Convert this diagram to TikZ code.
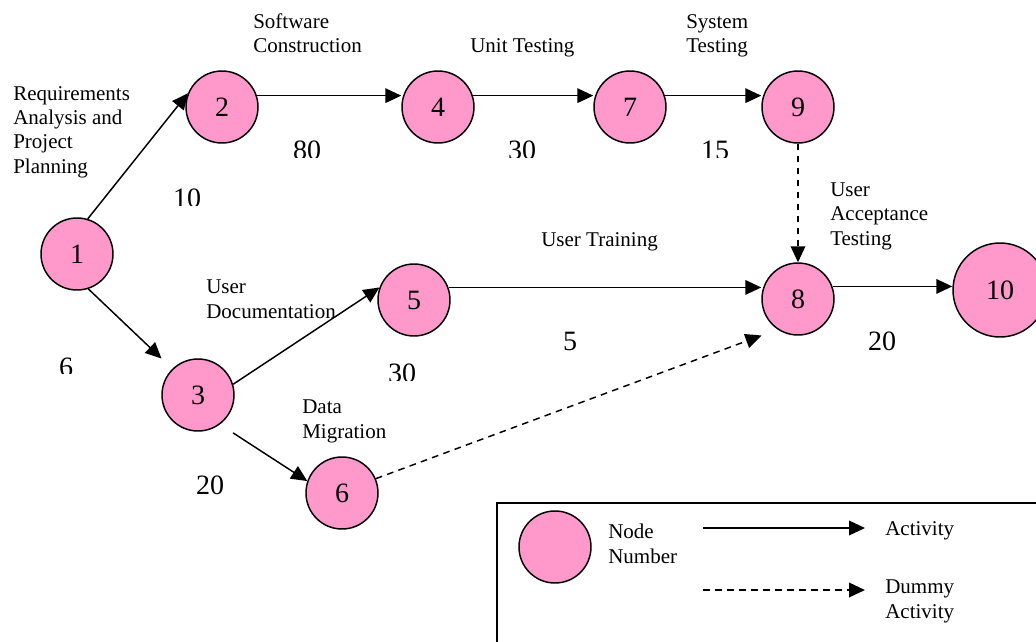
\documentclass[tikz,border=0pt]{standalone}
\usepackage{fontspec}
\setmainfont{Liberation Serif}
\usetikzlibrary{arrows.meta,calc}
\definecolor{nodepink}{RGB}{255,153,204}
\tikzset{
  evt/.style={circle,draw=black,fill=nodepink,line width=1.1pt,inner sep=0pt,minimum size=54pt,font=\fontsize{21}{24}\selectfont},
  act/.style={line width=1.1pt,-{Triangle[length=12pt,width=11pt]}},
  dummy/.style={act,dash pattern=on 5pt off 4pt},
  lbl/.style={anchor=base west,inner sep=0pt,align=left,font=\fontsize{15.75}{18.2}\selectfont},
  num/.style={anchor=base,inner sep=0pt,font=\fontsize{21}{24}\selectfont},
}
\newcommand\cutnum[5]{\begin{scope}\clip (#2-40,#4-60) rectangle (#2+40,#4);
  \node[num] (#1) at (#2,#3) {#5};\end{scope}}
\begin{document}
\begin{tikzpicture}[x=0.75pt,y=-0.75pt]
\useasboundingbox (0,0) rectangle (1036,642);
\clip (0,0) rectangle (1036,642);
% nodes
\node[evt] (n1) at (77,254) {1};
\node[evt] (n2) at (222,107) {2};
\node[evt] (n4) at (438,107) {4};
\node[evt] (n7) at (630,107) {7};
\node[evt] (n9) at (798,107) {9};
\node[evt] (n3) at (198,395) {3};
\node[evt] (n5) at (414,300) {5};
\node[evt] (n6) at (342,493) {6};
\node[evt] (n8) at (798,299) {8};
\node[evt,minimum size=70.5pt] (n10) at (1000,290) {10};
% connectors
\draw[act] (n1.73) -- (n2.158);
\draw[act] (n1.-72) -- ([shift={(-10.5,-10.5)}]n3.135);
\draw[act] (n2.18) -- (n2.18 -| n4.west);
\draw[act] (n4.18) -- (n4.18 -| n7.west);
\draw[act] (n7.18) -- (n7.18 -| n9.west);
\draw[dummy] (n9) -- (n8);
\draw[act] (n3.17) -- (n5.160);
\draw[act] ([shift={(10,11)}]n3.-47) -- (n6.161);
\draw[dummy] (n6.23) -- ([shift={(-10.5,10.5)}]n8.225);
\draw[act] (n5.20) -- (n5.20 -| n8.west);
\draw[act] (n8.20) -- (n8.20 -| n10.west);
% activity labels (anchored at the baseline of their last line)
\node[lbl] (lreq) at (13,173) {Requirements\\Analysis and\\Project\\Planning};
\node[lbl] (lsw) at (253,53) {Software\\Construction};
\node[lbl] (lut) at (470,53) {Unit Testing};
\node[lbl] (lst) at (686,53) {System\\Testing};
\node[lbl] (luat) at (830,245) {User\\Acceptance\\Testing};
\node[lbl] (lutr) at (541,246) {User Training};
\node[lbl] (lud) at (206,318) {User\\Documentation};
\node[lbl] (ldm) at (302,438) {Data\\Migration};
% durations
\cutnum{d12}{187}{207}{205}{10}
\cutnum{d24}{307}{160}{157}{80}
\cutnum{d47}{522}{160}{157}{30}
\cutnum{d79}{715}{160}{157}{15}
\cutnum{d13}{66}{376}{373}{6}
\cutnum{d35}{402}{382}{380}{30}
\node[num] (d58) at (570,350) {5};
\node[num] (d810) at (882,350) {20};
\node[num] (d36) at (210,494) {20};
% legend
\draw[line width=1.1pt] (497,503) rectangle (1045,660);
\node[evt] (legc) at (555,547) {};
\node[lbl] (legn) at (608,563) {Node\\Number};
\coordinate (la1) at (703,528);
\coordinate (la2) at (865,528);
\coordinate (ld1) at (703,590);
\coordinate (ld2) at (865,590);
\draw[act] (la1) -- (la2);
\draw[dummy] (ld1) -- (ld2);
\node[lbl] (lega) at (885,535) {Activity};
\node[lbl] (legd) at (885,618) {Dummy\\Activity};
\end{tikzpicture}
\end{document}
